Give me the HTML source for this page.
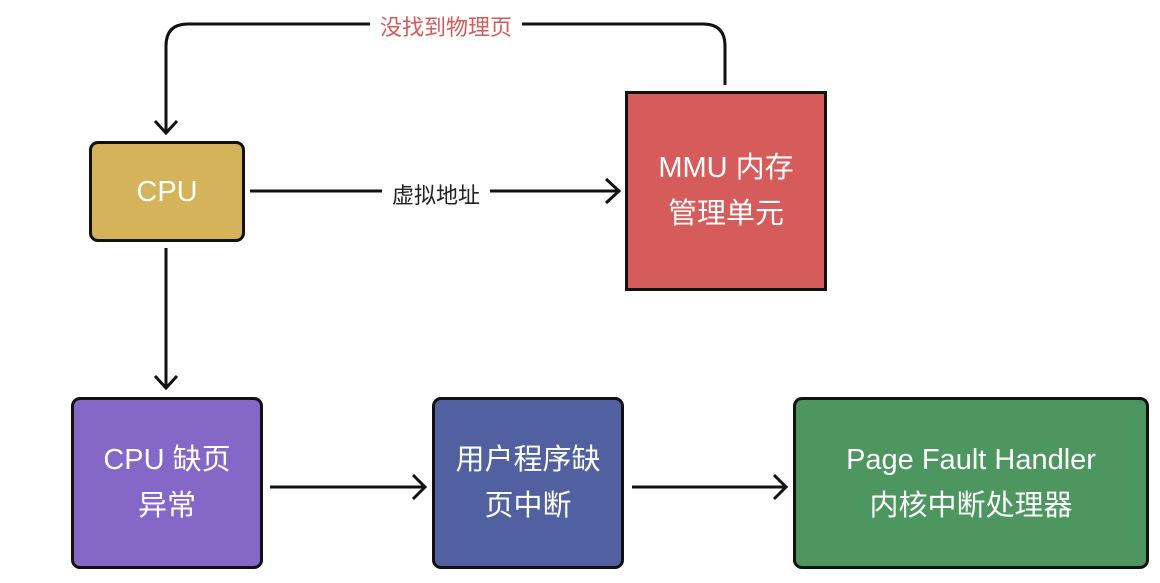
<!DOCTYPE html>
<html><head><meta charset="utf-8"><style>
body{margin:0;width:1160px;height:583px;background:#fff;position:relative;overflow:hidden;font-family:"Liberation Sans","Noto Sans CJK SC",sans-serif}
.b{position:absolute;box-sizing:border-box;border:3px solid #111;color:#fff;display:flex;align-items:center;justify-content:center;text-align:center;font-size:29px;line-height:46px}
.l{position:absolute;font-size:22px;background:#fff;padding:0 10px}
</style></head><body>
<svg width="1160" height="583" style="position:absolute;left:0;top:0" fill="none" stroke="#111" stroke-width="3">
<path d="M725 85 V46 Q725 24 703 24 H188 Q166 24 166 46 V132"/>
<path d="M155 121 L166 133 L177 121"/>
<path d="M250 191 H618"/><path d="M606 179 L619 191 L606 203"/>
<path d="M166 248 V387"/><path d="M155 376 L166 388 L177 376"/>
<path d="M270 487 H424"/><path d="M413 475 L425 487 L413 499"/>
<path d="M632 487 H785"/><path d="M774 475 L786 487 L774 499"/>
</svg>
<div class="l" style="left:370px;top:10px;color:#d65a5a">没找到物理页</div>
<div class="l" style="left:382px;top:178px;color:#222">虚拟地址</div>
<div class="b" style="left:89px;top:141px;width:156px;height:101px;background:#d4b35a;border-radius:9px">CPU</div>
<div class="b" style="left:625px;top:91px;width:202px;height:200px;background:#d55c5a">MMU 内存<br>管理单元</div>
<div class="b" style="left:71px;top:397px;width:192px;height:172px;background:#8468c8;border-radius:9px">CPU 缺页<br>异常</div>
<div class="b" style="left:432px;top:397px;width:192px;height:172px;background:#5060a0;border-radius:9px">用户程序缺<br>页中断</div>
<div class="b" style="left:793px;top:397px;width:356px;height:172px;background:#4e9660;border-radius:9px">Page Fault Handler<br>内核中断处理器</div>
</body></html>
